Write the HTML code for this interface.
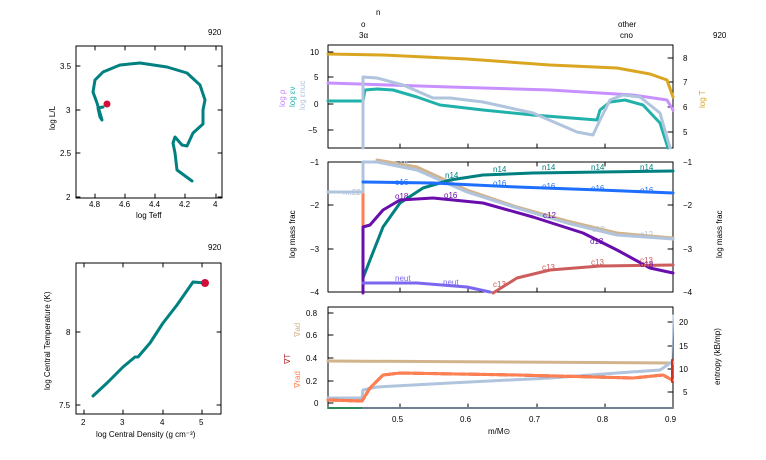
<!DOCTYPE html>
<html><head><meta charset="utf-8"><style>
body{margin:0;background:#fff;}
svg{display:block;font-family:"Liberation Sans",sans-serif;}
text{font-size:8px;fill:#000;}
</style></head><body>
<svg width="766" height="460" viewBox="0 0 766 460" xmlns="http://www.w3.org/2000/svg">
<rect width="766" height="460" fill="#fff"/>
<g fill="none" stroke-linejoin="round" stroke-linecap="round">
<!-- HR panel -->
<text x="208" y="35">920</text>
<rect x="76" y="46" width="146" height="152" stroke="#000" stroke-width="1"/>
<g stroke="#000" stroke-width="1">
<path d="M95 198v-4M125 198v-4M155 198v-4M185 198v-4M216 198v-4M95 46v4M125 46v4M155 46v4M185 46v4M216 46v4"/>
<path d="M76 66h4M76 110h4M76 153h4M76 197h4M222 66h-4M222 110h-4M222 153h-4M222 197h-4"/>
</g>
<text x="89" y="207">4.8</text><text x="119" y="207">4.6</text><text x="149" y="207">4.4</text><text x="179" y="207">4.2</text><text x="213" y="207">4</text>
<text x="60" y="69">3.5</text><text x="66" y="113">3</text><text x="60" y="156">2.5</text><text x="66" y="200">2</text>
<text x="136" y="218">log Teff</text>
<text transform="translate(55,130) rotate(-90)">log L/L</text>
<polyline stroke="#008080" stroke-width="3" points="192,181 177,170 175,153 173,143 175,137 182,145 187,146 193,133 203,124 203,110 205,100 200,85 187,73 167,67 140,63 120,65 103,72 95,80 93,92 97,103 102,120 100,117 98,108 103,107"/>
<circle cx="107" cy="104" r="3.5" fill="#d0103a"/>
<!-- Center panel -->
<text x="208" y="250">920</text>
<rect x="76" y="263" width="145" height="151" stroke="#000"/>
<g stroke="#000">
<path d="M84 414v-4M123 414v-4M163 414v-4M202 414v-4M84 263v4M123 263v4M163 263v4M202 263v4"/>
<path d="M76 332h4M76 405h4M221 332h-4M221 405h-4"/>
</g>
<text x="81" y="425">2</text><text x="120" y="425">3</text><text x="160" y="425">4</text><text x="199" y="425">5</text>
<text x="66" y="335">8</text><text x="59" y="408">7.5</text>
<text x="96" y="437">log Central Density (g cm⁻³)</text>
<text transform="translate(50,390) rotate(-90)">log Central Temperature (K)</text>
<polyline stroke="#008080" stroke-width="3" points="93,396 107,383 123,367 135,357 138,357 150,343 163,323 177,305 193,282 205,283"/>
<circle cx="205" cy="283" r="4" fill="#d0103a"/>

<!-- top right panel -->
<text x="376" y="15">n</text><text x="361" y="27">o</text><text x="359" y="38">3α</text>
<text x="618" y="27">other</text><text x="620" y="38">cno</text><text x="713" y="38">920</text>
<rect x="328" y="45" width="345" height="103" stroke="#000"/>
<g stroke="#000">
<path d="M328 52h5M328 77h5M328 104h5M328 130h5M673 58h-5M673 82h-5M673 107h-5M673 132h-5"/>
<path d="M400 148v-4M468 148v-4M537 148v-4M605 148v-4"/>
</g>
<text x="310" y="55">10</text><text x="314" y="80">5</text><text x="314" y="107">0</text><text x="308" y="133">−5</text>
<text x="683" y="61">8</text><text x="683" y="85">7</text><text x="683" y="110">6</text><text x="683" y="135">5</text>
<text transform="translate(705,108) rotate(-90)" style="fill:#daa520">log T</text>
<text transform="translate(285,107) rotate(-90)" style="fill:#c080ff">log ρ</text>
<text transform="translate(295,107) rotate(-90)" style="fill:#20b2aa">log εν</text>
<text transform="translate(305,110) rotate(-90)" style="fill:#b0c4de">log εnuc</text>
<polyline stroke="#daa520" stroke-width="3" points="328,54 383,55 467,59 550,65 617,68 650,74 667,80 673,97"/>
<polyline stroke="#c890ff" stroke-width="3" points="328,83 450,87 550,90 633,95 667,100 673,110"/>
<polyline stroke="#20b2aa" stroke-width="3" points="328,101 363,101 365,90 377,89 393,90 417,97 440,105 483,110 533,115 597,120 600,110 610,102 625,100 643,105 660,123 668,148"/>
<polyline stroke="#b0c4de" stroke-width="3" points="363,148 363,77 377,78 403,85 433,98 450,98 483,102 533,113 577,132 593,135 600,120 610,100 623,95 640,97 660,113 670,148"/>

<!-- middle panel -->
<rect x="328" y="162" width="345" height="130" stroke="#000"/>
<g stroke="#000">
<path d="M328 205h5M328 249h5M673 205h-5M673 249h-5"/>
<path d="M400 292v-4M468 292v-4M537 292v-4M605 292v-4M400 162v4M468 162v4M537 162v4M605 162v4"/>
</g>
<text x="310" y="165">−1</text><text x="310" y="208">−2</text><text x="310" y="252">−3</text><text x="310" y="295">−4</text>
<text x="683" y="165">−1</text><text x="683" y="208">−2</text><text x="683" y="252">−3</text><text x="683" y="295">−4</text>
<text transform="translate(295,258) rotate(-90)">log mass frac</text>
<text transform="translate(722,258) rotate(-90)">log mass frac</text>
<polyline stroke="#ff7f50" stroke-width="3" points="363,193 363,227"/>
<polyline stroke="#d2b48c" stroke-width="3" points="377,160 417,167 467,190 517,207 567,221 617,233 673,238"/>
<polyline stroke="#b0c4de" stroke-width="3" points="328,192 363,192 363,162 377,162 417,170 467,192 517,208 567,223 617,235 673,239"/>
<polyline stroke="#008080" stroke-width="3" points="363,278 370,260 383,227 400,203 423,188 450,180 483,175 533,173 673,171"/>
<polyline stroke="#1e6fff" stroke-width="3" points="363,182 433,183 517,187 600,190 673,193"/>
<polyline stroke="#6a0dad" stroke-width="3" points="363,293 363,227 370,225 383,210 400,200 433,198 483,203 533,217 583,233 617,250 650,268 673,273"/>
<polyline stroke="#7b68ee" stroke-width="3" points="363,283 417,283 467,287 490,292"/>
<polyline stroke="#cd5c5c" stroke-width="3" points="493,293 517,278 550,270 600,266 673,265"/>
<g style="font-size:9px">
<text x="343" y="195" style="fill:#b0c4de">ne22</text>
<text x="395" y="167" style="fill:#b0c4de">c12</text>
<text x="395" y="185" style="fill:#1e6fff">o16</text><text x="493" y="186" style="fill:#1e6fff">o16</text><text x="542" y="189" style="fill:#1e6fff">o16</text><text x="591" y="191" style="fill:#1e6fff">o16</text><text x="640" y="193" style="fill:#1e6fff">o16</text>
<text x="445" y="178" style="fill:#008080">n14</text><text x="493" y="172" style="fill:#008080">n14</text><text x="542" y="170" style="fill:#008080">n14</text><text x="591" y="170" style="fill:#008080">n14</text><text x="640" y="170" style="fill:#008080">n14</text>
<text x="395" y="199" style="fill:#6a0dad">o18</text><text x="444" y="198" style="fill:#6a0dad">o16</text><text x="590" y="244" style="fill:#6a0dad">o18</text><text x="640" y="267" style="fill:#6a0dad">o18</text>
<text x="543" y="218" style="fill:#6a0dad">c12</text><text x="592" y="232" style="fill:#b0c4de">c12</text><text x="640" y="237" style="fill:#b0c4de">c12</text>
<text x="395" y="281" style="fill:#7b68ee">neut</text><text x="443" y="285" style="fill:#7b68ee">neut</text>
<text x="493" y="287" style="fill:#cd5c5c">c13</text><text x="542" y="270" style="fill:#cd5c5c">c13</text><text x="591" y="265" style="fill:#cd5c5c">c13</text><text x="640" y="263" style="fill:#cd5c5c">c13</text>
</g>

<!-- bottom panel -->
<rect x="328" y="307" width="345" height="101" stroke="#000"/>
<g stroke="#000">
<path d="M328 313h5M328 335h5M328 358h5M328 381h5M328 403h5M673 322h-5M673 346h-5M673 369h-5M673 392h-5"/>
<path d="M400 408v-4M468 408v-4M537 408v-4M605 408v-4"/>
</g>
<text x="306" y="316">0.8</text><text x="306" y="338">0.6</text><text x="306" y="361">0.4</text><text x="306" y="384">0.2</text><text x="314" y="406">0</text>
<text x="679" y="325">20</text><text x="679" y="349">15</text><text x="679" y="372">10</text><text x="683" y="395">5</text>
<text x="392" y="422">0.5</text><text x="460" y="422">0.6</text><text x="529" y="422">0.7</text><text x="597" y="422">0.8</text><text x="665" y="422">0.9</text>
<text x="488" y="434">m/M⊙</text>
<text transform="translate(720,385) rotate(-90)">entropy (kB/mp)</text>
<text transform="translate(300,337) rotate(-90)" style="fill:#d2b48c">∇ad</text>
<text transform="translate(290,364) rotate(-90)" style="fill:#b22222">∇T</text>
<text transform="translate(300,388) rotate(-90)" style="fill:#ff7f50">∇rad</text>
<polyline stroke="#d2b48c" stroke-width="3" points="328,361 673,363"/>
<polyline stroke="#b0c4de" stroke-width="3" points="328,398 362,398 363,390 377,387 450,383 550,378 617,373 660,370 672,362"/>
<polyline stroke="#b0c4de" stroke-width="1" points="672,362 673,315"/>
<polyline stroke="#b22222" stroke-width="3" stroke-dasharray="10,4" points="328,400 362,401 370,388 383,375 400,373 517,375 633,378 663,375 672,380"/>
<polyline stroke="#ff7f50" stroke-width="3" points="328,400 362,401 370,388 383,375 400,373 517,375 633,378 663,375 672,380"/>
<polyline stroke="#d03020" stroke-width="2" points="672,360 672,382"/>
<polyline stroke="#2e8b57" stroke-width="2" points="328,408 362,408"/>
<polyline stroke="#708090" stroke-width="2" points="363,408 673,408"/>
</g>
</svg>
</body></html>
